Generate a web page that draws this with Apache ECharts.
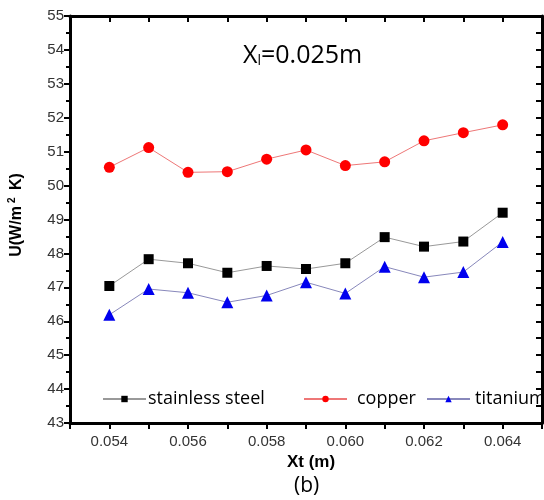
<!DOCTYPE html>
<html><head><meta charset="utf-8">
<script src="https://cdn.jsdelivr.net/npm/echarts@6/dist/echarts.min.js"></script>
<style>html,body{margin:0;padding:0;background:#fff}#c{width:544px;height:500px}</style>
</head><body><div id="c"></div>
<script>
const xValues = [0.054,0.055,0.056,0.057,0.058,0.059,0.060,0.061,0.062,0.063,0.064];
const stainless = [47.04,47.83,47.71,47.43,47.63,47.54,47.71,48.48,48.20,48.35,49.20];
const copper = [50.54,51.12,50.39,50.41,50.78,51.05,50.59,50.70,51.32,51.56,51.79];
const titanium = [46.19,46.95,46.84,46.56,46.76,47.15,46.82,47.61,47.30,47.45,48.34];
const seriesNames = ['stainless steel','copper','titanium'];
const pair = arr => xValues.map((x,i)=>[x,arr[i]]);

const chart = echarts.init(document.getElementById('c'));
const axisLine = {show:true, onZero:false, lineStyle:{color:'#000', width:3}};
function legendAt(left, name, textPad){
  return {left:left, top:390, padding:0, itemWidth:43, itemHeight:8, orient:'horizontal',
    data:[name],
    textStyle:{color:'#000', fontFamily:'Open Sans', fontSize:18, padding:[0,0,0,textPad]}};
}
chart.setOption({
  animation:false,
  backgroundColor:'#fff',
  grid:{left:70, right:2, top:16, bottom:77, containLabel:false, outerBoundsMode:'none'},
  xAxis:[{
    type:'value', min:0.053, max:0.065, interval:0.001,
    axisLine, splitLine:{show:false},
    axisTick:{show:true, inside:false, length:6, lineStyle:{color:'#000', width:2}},
    axisLabel:{color:'#333', fontFamily:'Liberation Sans', fontSize:15, margin:11,
      showMinLabel:true, showMaxLabel:true,
      formatter:v=>{const k=Math.round(v*1000); return (k%2===0 && k>=54 && k<=64)? (k/1000).toFixed(3):'';}},
    name:'Xt (m)', nameLocation:'middle', nameGap:28,
    nameTextStyle:{color:'#000', fontFamily:'Liberation Sans', fontWeight:'bold', fontSize:17, padding:[0,0,0,10]}
  },{
    type:'value', position:'top', min:0.053, max:0.065, interval:0.001,
    axisLine, splitLine:{show:false}, axisLabel:{show:false},
    axisTick:{show:true, inside:true, length:6, lineStyle:{color:'#000', width:2}}
  }],
  yAxis:[{
    type:'value', min:43, max:55, interval:1,
    axisLine, splitLine:{show:false},
    axisTick:{show:true, inside:false, length:6, lineStyle:{color:'#000', width:2}},
    minorTick:{show:true, splitNumber:2, length:4, lineStyle:{color:'#000', width:2}},
    axisLabel:{color:'#333', fontFamily:'Liberation Sans', fontSize:15, margin:6},
    name:'{a|U(W/m}{s|2}{a| K)}', nameLocation:'middle', nameGap:44, nameRotate:90,
    nameTextStyle:{padding:[0,0,0,9], rich:{
      a:{color:'#000', fontFamily:'Liberation Sans', fontWeight:'bold', fontSize:16},
      s:{color:'#000', fontFamily:'Liberation Sans', fontWeight:'bold', fontSize:10, verticalAlign:'top', padding:[0,3,9,3]}
    }}
  },{
    type:'value', position:'right', min:43, max:55, interval:0.5,
    axisLine, splitLine:{show:false}, axisLabel:{show:false},
    axisTick:{show:true, inside:true, length:6, lineStyle:{color:'#000', width:2}}
  }],
  legend:[
    legendAt(102, seriesNames[0], -3),
    legendAt(303, seriesNames[1], 5),
    legendAt(426, seriesNames[2], 0)
  ],
  series:[
    {name:seriesNames[0], type:'line', data:pair(stainless), symbol:'rect', symbolSize:10,
     itemStyle:{color:'#000'}, lineStyle:{color:'#999', width:1}},
    {name:seriesNames[1], type:'line', data:pair(copper), symbol:'circle', symbolSize:11,
     itemStyle:{color:'#f00'}, lineStyle:{color:'#e77', width:1}},
    {name:seriesNames[2], type:'line', data:pair(titanium), symbol:'triangle', symbolSize:12,
     itemStyle:{color:'#00e'}, lineStyle:{color:'#88b', width:1}}
  ],
  graphic:[
    {type:'text', left:243, top:43, style:{
      text:'{a|X}{s|l}{a|=0.025m}',
      rich:{a:{fontFamily:'Open Sans', fontSize:25, fill:'#000'},
            s:{fontFamily:'Open Sans', fontSize:14, fill:'#000', padding:[12,0,0,0]}}}},
    {type:'text', left:294, top:476, style:{text:'(b)', fontFamily:'Open Sans', fontSize:21, fill:'#000'}}
  ]
});
</script></body></html>
